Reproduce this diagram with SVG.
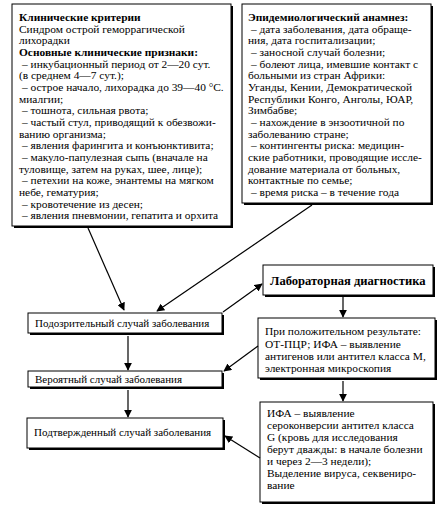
<svg xmlns="http://www.w3.org/2000/svg" width="442" height="510" viewBox="0 0 442 510">
<style>
.box{fill:#fff;stroke:#000;stroke-width:1}
.sh{fill:#000}
text{font-family:"Liberation Serif","Times New Roman",serif;font-size:11px;fill:#000}
.t{font-size:11.4px}
.b{font-weight:bold}
.lab{font-size:12.6px;font-weight:bold}
.c{stroke:#000;stroke-width:1.2;fill:none}
</style>
<defs>
<marker id="ah" viewBox="0 0 10 10" refX="9" refY="5" markerWidth="8" markerHeight="8" markerUnits="userSpaceOnUse" orient="auto">
<path d="M0,0 L10,5 L0,10 z" fill="#000"/>
</marker>
</defs>
<rect width="442" height="510" fill="#fff"/>
<g id="clinical" class="t">
<rect class="sh" x="14" y="6" width="219" height="222"/>
<rect class="box" x="12" y="4" width="219" height="222"/>
<text x="19" y="21" class="t b">Клинические критерии</text>
<text x="19" y="33" class="t">Синдром острой геморрагической</text>
<text x="19" y="44" class="t">лихорадки</text>
<text x="19" y="56" class="t b">Основные клинические признаки:</text>
<text x="22" y="68" class="t">– инкубационный период от 2—20 сут.</text>
<text x="19" y="79" class="t">(в среднем 4—7 сут.);</text>
<text x="22" y="91" class="t">– острое начало, лихорадка до 39—40 °С.</text>
<text x="19" y="103" class="t">миалгии;</text>
<text x="22" y="114" class="t">– тошнота, сильная рвота;</text>
<text x="22" y="126" class="t">– частый стул, приводящий к обезвожи-</text>
<text x="19" y="138" class="t">ванию организма;</text>
<text x="22" y="149" class="t">– явления фарингита и конъюнктивита;</text>
<text x="22" y="161" class="t">– макуло-папулезная сыпь  (вначале на</text>
<text x="19" y="173" class="t">туловище, затем на руках, шее, лице);</text>
<text x="22" y="184" class="t">– петехии на коже, энантемы на мягком</text>
<text x="19" y="196" class="t">небе, гематурия;</text>
<text x="22" y="208" class="t">– кровотечение из десен;</text>
<text x="22" y="219" class="t">– явления пневмонии, гепатита и орхита</text>
</g>
<g id="epidemiology">
<rect class="sh" x="244" y="6" width="189" height="199"/>
<rect class="box" x="242" y="4" width="189" height="199"/>
<text x="248" y="21" class="t b">Эпидемиологический анамнез:</text>
<text x="251" y="33" class="t">– дата заболевания, дата обраще-</text>
<text x="248" y="44" class="t">ния, дата госпитализации;</text>
<text x="251" y="56" class="t">– заносной случай болезни;</text>
<text x="251" y="68" class="t">– болеют лица, имевшие контакт с</text>
<text x="248" y="79" class="t">больными из стран Африки:</text>
<text x="248" y="91" class="t">Уганды, Кении, Демократической</text>
<text x="248" y="103" class="t">Республики Конго, Анголы, ЮАР,</text>
<text x="248" y="114" class="t">Зимбабве;</text>
<text x="251" y="126" class="t">– нахождение в энзоотичной по</text>
<text x="248" y="138" class="t">заболеванию стране;</text>
<text x="251" y="149" class="t">– контингенты риска: медицин-</text>
<text x="248" y="161" class="t">ские работники, проводящие иссле-</text>
<text x="248" y="173" class="t">дование материала от больных,</text>
<text x="248" y="184" class="t">контактные по семье;</text>
<text x="251" y="196" class="t">– время риска – в течение года</text>
</g>
<g id="lab">
<rect class="sh" x="265" y="267" width="170" height="30"/>
<rect class="box" x="263" y="265" width="170" height="30"/>
<text x="270" y="285" class="lab">Лабораторная диагностика</text>
</g>
<g id="suspicious">
<rect class="sh" x="30" y="315" width="194" height="20"/>
<rect class="box" x="28" y="313" width="194" height="20"/>
<text x="35" y="327">Подозрительный случай заболевания</text>
</g>
<g id="positive">
<rect class="sh" x="260" y="320" width="177" height="60"/>
<rect class="box" x="258" y="318" width="177" height="60"/>
<text x="265" y="335" class="t">При положительном результате:</text>
<text x="265" y="348" class="t">ОТ-ПЦР; ИФА – выявление</text>
<text x="265" y="360" class="t">антигенов или антител класса М,</text>
<text x="265" y="372" class="t">электронная микроскопия</text>
</g>
<g id="probable">
<rect class="sh" x="30" y="373" width="194" height="16"/>
<rect class="box" x="28" y="371" width="194" height="16"/>
<text x="35" y="383">Вероятный случай заболевания</text>
</g>
<g id="confirmed">
<rect class="sh" x="29" y="420" width="196" height="30"/>
<rect class="box" x="27" y="418" width="196" height="30"/>
<text x="34" y="436">Подтвержденный случай заболевания</text>
</g>
<g id="final">
<rect class="sh" x="262" y="404" width="173" height="100"/>
<rect class="box" x="260" y="402" width="173" height="100"/>
<text x="267" y="417" class="t">ИФА – выявление</text>
<text x="267" y="429" class="t">сероконверсии антител класса</text>
<text x="267" y="441" class="t">G (кровь для исследования</text>
<text x="267" y="453" class="t">берут дважды: в начале болезни</text>
<text x="267" y="465" class="t">и через 2—3 недели);</text>
<text x="267" y="477" class="t">Выделение вируса, секвениро-</text>
<text x="267" y="489" class="t">вание</text>
</g>
<g id="connectors">
<line class="c" x1="88" y1="228" x2="124" y2="310" marker-end="url(#ah)"/>
<line class="c" x1="312" y1="205" x2="157" y2="311" marker-end="url(#ah)"/>
<line class="c" x1="223" y1="312" x2="262" y2="284" marker-end="url(#ah)"/>
<line class="c" x1="343" y1="297" x2="343" y2="317" marker-end="url(#ah)"/>
<line class="c" x1="128" y1="336" x2="128" y2="370" marker-end="url(#ah)"/>
<line class="c" x1="258" y1="346" x2="224" y2="371" marker-end="url(#ah)"/>
<line class="c" x1="128" y1="390" x2="128" y2="417" marker-end="url(#ah)"/>
<line class="c" x1="343" y1="381" x2="343" y2="401" marker-end="url(#ah)"/>
<line class="c" x1="260" y1="458" x2="225" y2="436" marker-end="url(#ah)"/>
</g>
</svg>
